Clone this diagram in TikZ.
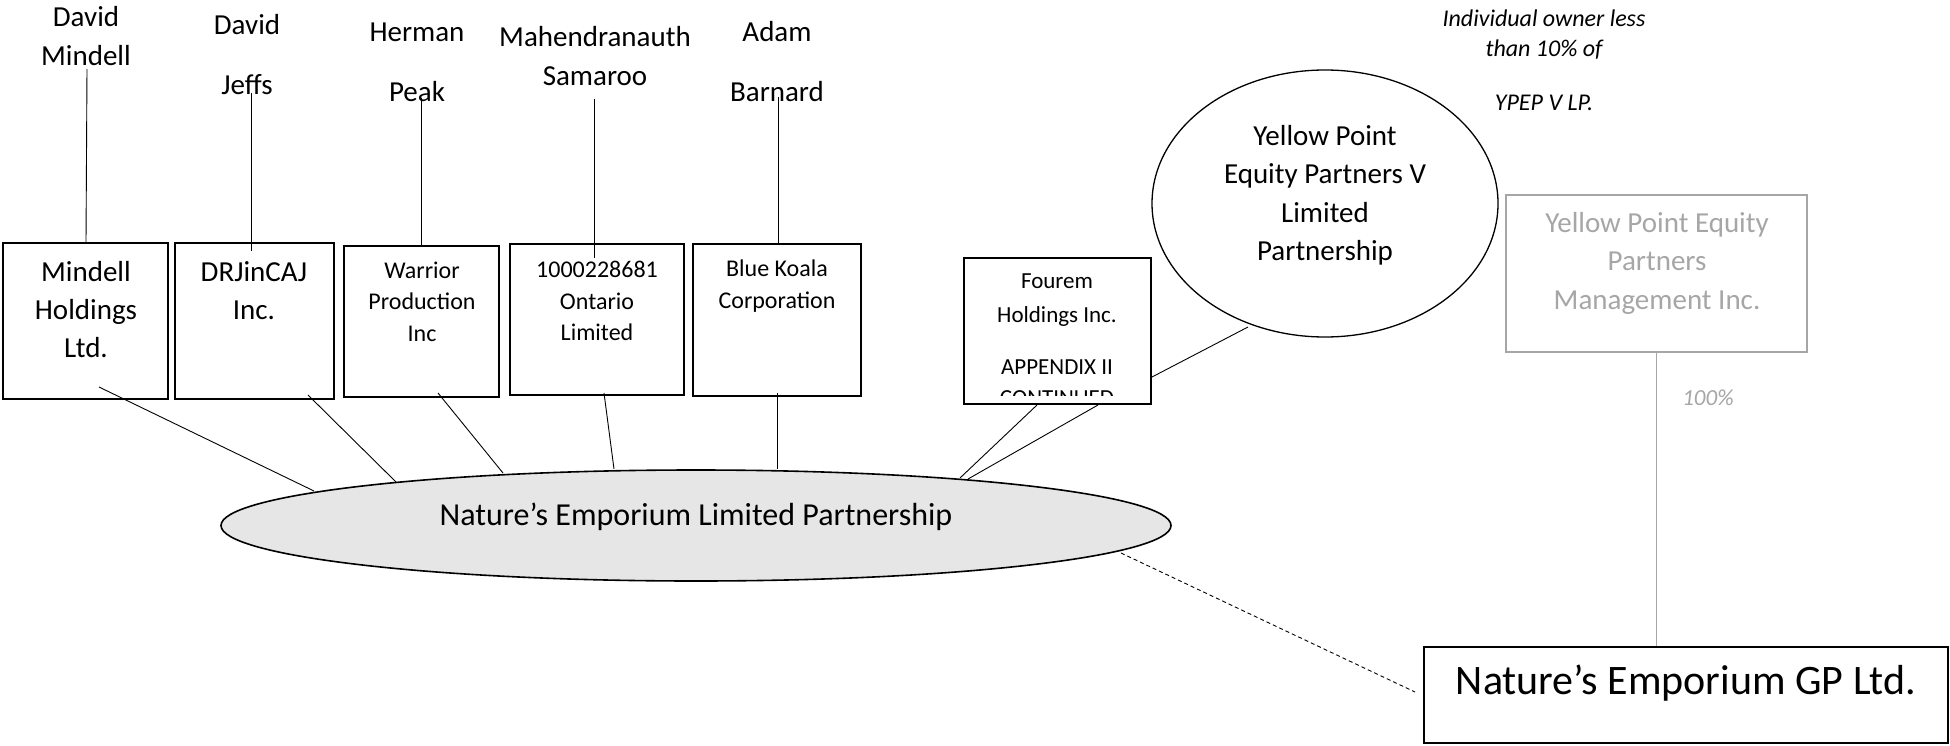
\documentclass[tikz,border=0pt]{standalone}
\usepackage{fontspec}
\setmainfont{Carlito}
\usetikzlibrary{shapes.geometric}
\definecolor{lightgr}{HTML}{A6A6A6}
\definecolor{ellfill}{HTML}{E6E6E6}
\begin{document}
\begin{tikzpicture}[x=1pt,y=-1pt,
  box/.style={draw, line width=1.6pt, inner sep=0pt},
  graybox/.style={draw=lightgr, line width=1.4pt, inner sep=0pt},
  conn/.style={line width=0.9pt},
  grayconn/.style={draw=lightgr, line width=0.9pt},
  dashconn/.style={line width=0.9pt, dash pattern=on 4pt off 3pt},
  bigtxt/.style={inner sep=0pt, align=center, font=\fontsize{29}{38}\selectfont},
  midtxt/.style={inner sep=0pt, align=center, font=\fontsize{24}{31.5}\selectfont},
  nametxt/.style={inner sep=0pt, align=center, font=\fontsize{29}{39}\selectfont},
  widename/.style={inner sep=0pt, align=center, font=\fontsize{29}{60}\selectfont},
  ittxt/.style={inner sep=0pt, align=center, font=\fontsize{24}{30}\selectfont\itshape}
]
\useasboundingbox (0,0) rectangle (1950,746);

% ---------- person names ----------
\node[nametxt]  (n1) at (86,36)  {David\\Mindell};
\node[widename] (n2) at (247,55) {David\\Jeffs};
\node[widename] (n3) at (417,62) {Herman\\Peak};
\node[nametxt]  (n4) at (595,56) {Mahendranauth\\Samaroo};
\node[widename] (n5) at (777,62) {Adam\\Barnard};

% ---------- holding boxes ----------
\node[box, minimum width=165, minimum height=156] (mindell) at (85.5,321) {};
\node[box, minimum width=159, minimum height=156] (drj) at (254.5,321) {};
\node[box, minimum width=155, minimum height=151] (warrior) at (421.5,321.5) {};
\node[box, minimum width=174, minimum height=151] (ontario) at (597,319.5) {};
\node[box, minimum width=168, minimum height=152] (koala) at (777,320) {};
\node[box, minimum width=187, minimum height=146] (fourem) at (1057.5,331) {};

\node[bigtxt] (mindellt) at (86,310) {Mindell\\Holdings\\Ltd.};
\node[bigtxt] (drjt) at (254,291) {DRJinCAJ\\Inc.};
\node[midtxt] (warriort) at (422,301.5) {Warrior\\Production\\Inc};
\node[midtxt] (ontariot) at (597,301) {1000228681\\Ontario\\Limited};
\node[midtxt] (koalat) at (777,286) {Blue Koala\\Corporation};
\node[inner sep=0pt, align=center, font=\fontsize{23}{34}\selectfont] (fouremt) at (1057,300) {Fourem\\Holdings Inc.};
\begin{scope}
  \clip (964,258) rectangle (1151,395);
  \node[inner sep=0pt, align=center, font=\fontsize{23}{31}\selectfont] (appx) at (1057,382.5) {APPENDIX II\\CONTINUED};
\end{scope}

% ---------- Yellow Point ----------
\node[draw, ellipse, line width=1.3pt, minimum width=346, minimum height=267, inner sep=0pt] (ypep) at (1325,203.5) {};
\node[inner sep=0pt, align=center, font=\fontsize{29}{38.5}\selectfont] (ypept) at (1325,195.5) {Yellow Point\\Equity Partners V\\Limited\\Partnership};
\node[graybox, minimum width=301, minimum height=157] (ypm) at (1656.5,273.5) {};
\node[inner sep=0pt, align=center, text=lightgr, font=\fontsize{29}{38.5}\selectfont] (ypmt) at (1657,263) {Yellow Point Equity\\Partners\\Management Inc.};
\node[ittxt] (note) at (1544,60) {Individual owner less\\than 10\% of\\[24pt]YPEP V LP.};
\node[inner sep=0pt, text=lightgr, font=\fontsize{23}{28}\selectfont\itshape] (pct) at (1708,398) {100\%};

% ---------- Nature's Emporium ----------
\node[draw, ellipse, fill=ellfill, line width=1.6pt, minimum width=950, minimum height=111, inner sep=0pt] (nep) at (696,525.5) {};
\node[inner sep=0pt, font=\fontsize{32}{38}\selectfont] (nept) at (696,517) {Nature’s Emporium Limited Partnership};
\node[box, minimum width=524, minimum height=96] (gp) at (1686,695) {};
\node[inner sep=0pt, font=\fontsize{42}{50}\selectfont] (gpt) at (1686,683) {Nature’s Emporium GP Ltd.};

% ---------- connector end points ----------
\coordinate (a1) at (87,69);   \coordinate (b1) at (86,243);
\coordinate (a2) at (251,93);  \coordinate (b2) at (251,251);
\coordinate (a3) at (421,98);  \coordinate (b3) at (421,245);
\coordinate (a4) at (594,99);  \coordinate (b4) at (594,258);
\coordinate (a5) at (778,97);  \coordinate (b5) at (778,244);

\coordinate (c1) at (99,387);   \coordinate (d1) at (314,491);
\coordinate (c2) at (308,395);  \coordinate (d2) at (396,482);
\coordinate (c3) at (438,393);  \coordinate (d3) at (503,473);
\coordinate (c4) at (604,393);  \coordinate (d4) at (614,469);
\coordinate (c5) at (777,393);  \coordinate (d5) at (777,469);
\coordinate (c6) at (1037,405); \coordinate (d6) at (960,478);
\coordinate (c7) at (1098,405); \coordinate (d7) at (968,479);
\coordinate (c8) at (1152,377); \coordinate (d8) at (1248,327);
\coordinate (e1) at (1121,553); \coordinate (e2) at (1415,692);

% ---------- connectors ----------
\draw[conn] (a1) -- (b1);
\draw[conn] (a2) -- (b2);
\draw[conn] (a3) -- (b3);
\draw[conn] (a4) -- (b4);
\draw[conn] (a5) -- (b5);
\draw[conn] (c1) -- (d1);
\draw[conn] (c2) -- (d2);
\draw[conn] (c3) -- (d3);
\draw[conn] (c4) -- (d4);
\draw[conn] (c5) -- (d5);
\draw[conn] (c6) -- (d6);
\draw[conn] (c7) -- (d7);
\draw[conn] (c8) -- (d8);
\draw[dashconn] (e1) -- (e2);
\draw[grayconn] (ypm.south) -- (ypm.south |- gp.north);
\end{tikzpicture}
\end{document}
